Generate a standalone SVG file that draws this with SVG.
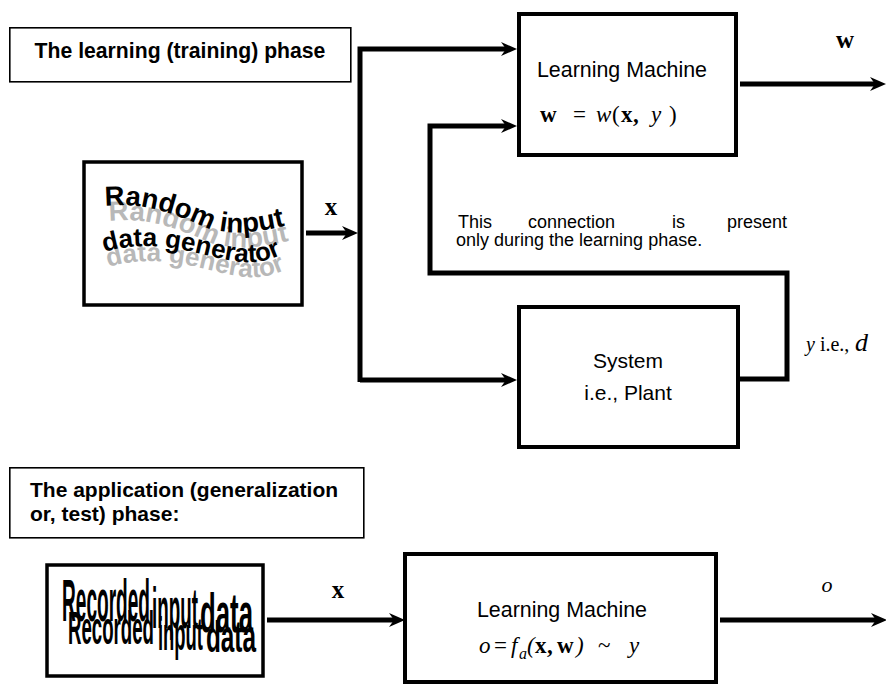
<svg xmlns="http://www.w3.org/2000/svg" width="886" height="686" viewBox="0 0 886 686">
<style>
.thin{fill:#fff;stroke:#000;stroke-width:1.6}
.box{fill:#fff;stroke:#000;stroke-width:4}
.box3{fill:#fff;stroke:#000;stroke-width:3.5}
.wire{fill:none;stroke:#000;stroke-width:5;stroke-linejoin:miter}
.arr{marker-end:url(#ah)}
.sans{font-family:"Liberation Sans",Arial,sans-serif;fill:#000}
.bold{font-weight:bold}
.serif{font-family:"Liberation Serif","Times New Roman",serif;fill:#000}
.wa{font-family:"Liberation Sans",Arial,sans-serif;font-weight:bold}
</style>
<defs>
<marker id="ah" viewBox="0 0 16 14" markerWidth="16" markerHeight="14" refX="8" refY="7" markerUnits="userSpaceOnUse" orient="auto">
<path d="M0,0 L16,7 L0,14 L5,7 z" fill="#000"/>
</marker>
<path id="r1" d="M105,206 C140,202 170,212 200,225 S262,232 300,222"/>
<path id="r2" d="M104,252 C140,242 170,246 210,256 S266,264 294,248"/>
<path id="r1s" d="M109,221 C144,217 174,227 204,240 S266,247 304,237"/>
<path id="r2s" d="M108,267 C144,257 174,261 214,271 S270,279 298,263"/>
</defs>

<g id="title-learning">
<rect class="thin" x="9.8" y="27.8" width="341" height="54"/>
<text class="sans bold" x="180" y="58" font-size="21.2" text-anchor="middle">The learning (training) phase</text>
</g>

<g id="connectors">
<path class="wire arr" d="M306,233 H350"/>
<path class="wire arr" d="M360,382 V49 H509"/>
<path class="wire arr" d="M360,380 H509"/>
<path class="wire arr" d="M740,379 H787 V273 H430 V126 H509"/>
<path class="wire arr" d="M740,84 H878"/>
<path class="wire arr" d="M267,620 H397"/>
<path class="wire arr" d="M720,620 H879"/>
</g>

<g id="learning-machine-1">
<rect class="box" x="519" y="14" width="217" height="141"/>
<text class="sans" x="622" y="77" font-size="21.4" text-anchor="middle">Learning Machine</text>
<g class="serif" font-size="23">
<text x="540" y="122" font-weight="bold">w</text>
<text x="573" y="122">=</text>
<text x="596" y="122" font-style="italic">w</text>
<text x="612" y="122">(</text>
<text x="621" y="122" font-weight="bold">x</text>
<text x="633" y="122" font-weight="bold">,</text>
<text x="651" y="122" font-style="italic">y</text>
<text x="669" y="122">)</text>
</g>
</g>

<g id="label-w"><text class="serif" x="845" y="48" font-size="25" font-weight="bold" text-anchor="middle">w</text></g>

<g id="random-generator">
<rect class="box3" x="84" y="162" width="218" height="143"/>
<g class="wa" fill="#b8b8b8" font-size="27.5">
<text><textPath href="#r1s">Random input</textPath></text>
<text font-size="26"><textPath href="#r2s">data generator</textPath></text>
</g>
<g class="wa" fill="#000" font-size="27.5">
<text><textPath href="#r1">Random input</textPath></text>
<text font-size="26"><textPath href="#r2">data generator</textPath></text>
</g>
</g>

<g id="label-x1"><text class="serif" x="331" y="215" font-size="25" font-weight="bold" text-anchor="middle">x</text></g>

<g id="note">
<g class="sans" font-size="18">
<text x="458" y="228">This</text>
<text x="528" y="228">connection</text>
<text x="672" y="228">is</text>
<text x="787" y="228" text-anchor="end">present</text>
<text x="456" y="246">only during the learning phase.</text>
</g>
</g>

<g id="system">
<rect class="box" x="519" y="307" width="219" height="140"/>
<text class="sans" x="628" y="368" font-size="21" text-anchor="middle">System</text>
<text class="sans" x="628" y="400" font-size="21" text-anchor="middle">i.e., Plant</text>
</g>

<g id="label-y">
<text class="serif" x="806" y="351" font-size="20"><tspan font-style="italic">y</tspan> i.e.,</text>
<text class="serif" x="855" y="351" font-size="26" font-style="italic">d</text>
</g>

<g id="title-application">
<rect class="thin" x="9.8" y="467.8" width="354" height="70"/>
<text class="sans bold" x="30" y="497" font-size="21">The application (generalization</text>
<text class="sans bold" x="30" y="521" font-size="21">or, test) phase:</text>
</g>

<g id="recorded-data">
<rect class="box3" x="47" y="565" width="216" height="111"/>
<g class="sans" fill="#b8b8b8" font-weight="bold">
<text x="68" y="644" font-size="46" textLength="86" lengthAdjust="spacingAndGlyphs">Recorded</text>
<text x="158" y="650" font-size="46" textLength="45" lengthAdjust="spacingAndGlyphs">input</text>
<text x="206" y="652" font-size="44" textLength="50" lengthAdjust="spacingAndGlyphs">data</text>
</g>
<g class="sans" fill="#000" font-weight="bold">
<text x="62" y="621" font-size="60" textLength="88" lengthAdjust="spacingAndGlyphs">Recorded</text>
<text x="152" y="628" font-size="58" textLength="46" lengthAdjust="spacingAndGlyphs">input</text>
<text x="200" y="632" font-size="56" textLength="53" lengthAdjust="spacingAndGlyphs">data</text>
</g>
</g>

<g id="label-x2"><text class="serif" x="338" y="598" font-size="25" font-weight="bold" text-anchor="middle">x</text></g>

<g id="learning-machine-2">
<rect class="box" x="405" y="554" width="311" height="128"/>
<text class="sans" x="562" y="617" font-size="21.4" text-anchor="middle">Learning Machine</text>
<g class="serif" font-size="23">
<text x="479" y="653" font-style="italic">o</text>
<text x="494" y="653">=</text>
<text x="511" y="653" font-style="italic">f</text>
<text x="519" y="659" font-style="italic" font-size="16">a</text>
<text x="527" y="653" font-style="italic">(</text>
<text x="535" y="653" font-weight="bold">x</text>
<text x="547" y="653" font-weight="bold">,</text>
<text x="557" y="653" font-weight="bold">w</text>
<text x="576" y="653" font-style="italic">)</text>
<text x="598" y="653">~</text>
<text x="629" y="653" font-style="italic">y</text>
</g>
</g>

<g id="label-o"><text class="serif" x="827" y="592" font-size="22" font-style="italic" text-anchor="middle">o</text></g>
</svg>
